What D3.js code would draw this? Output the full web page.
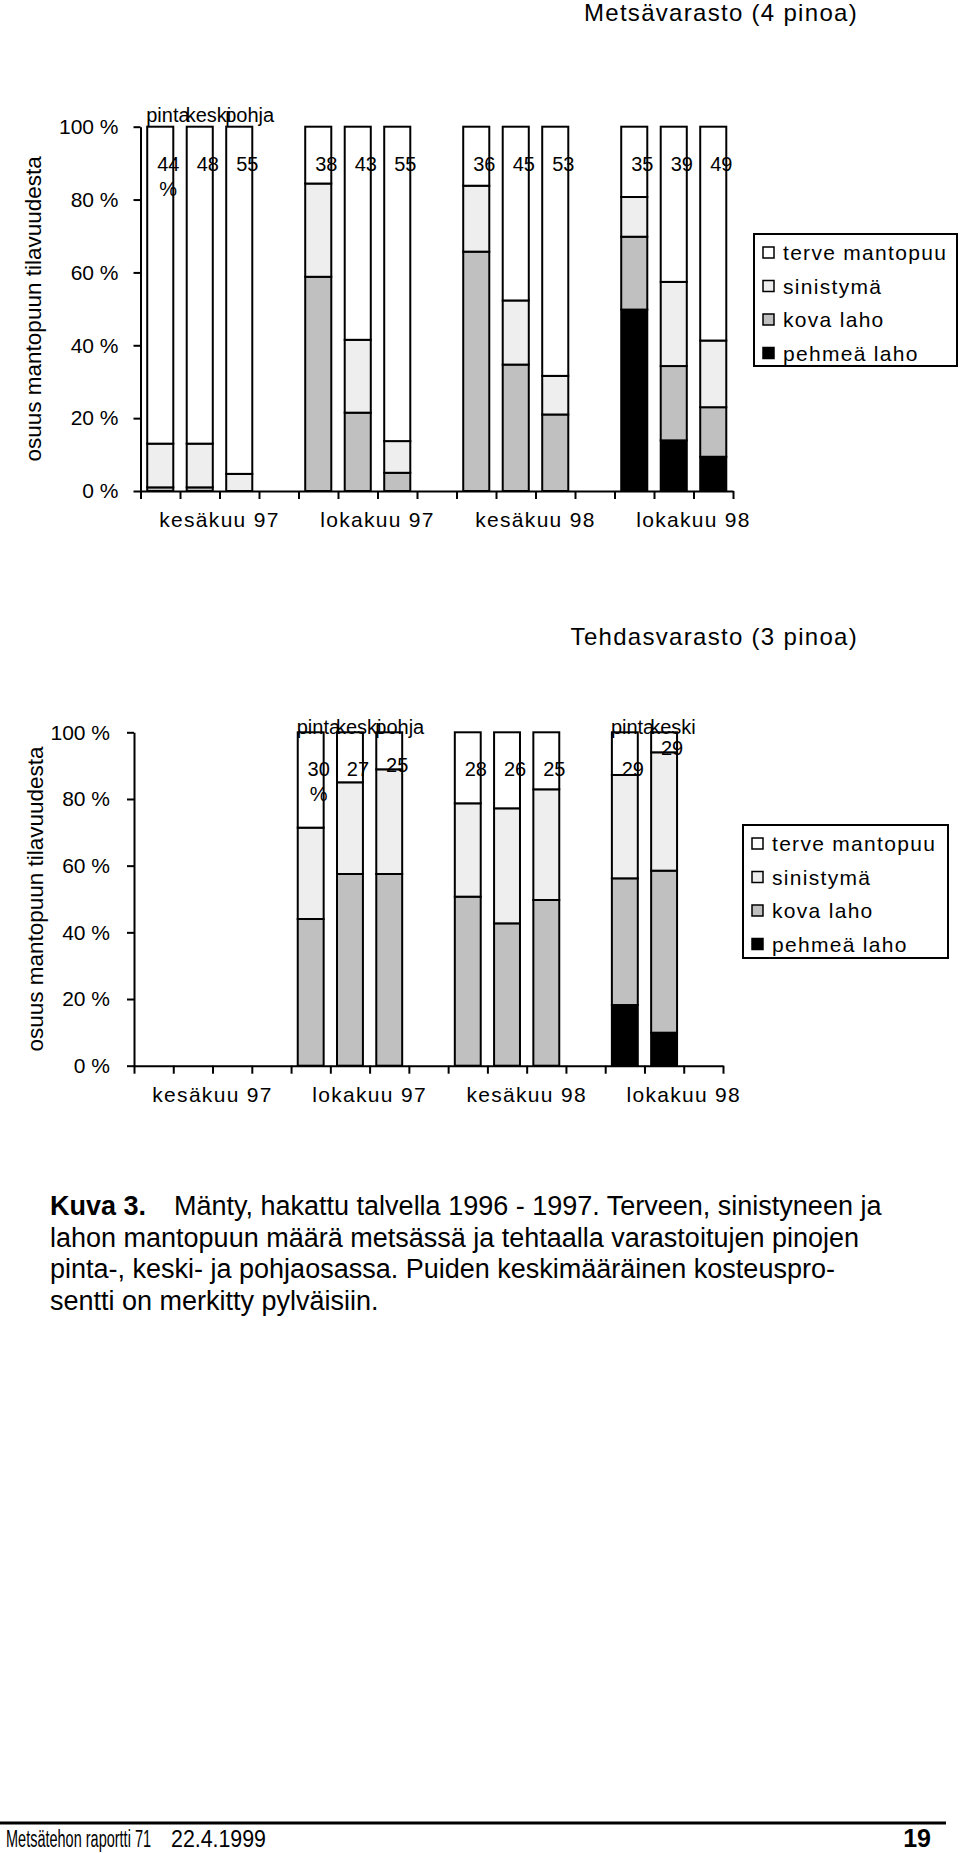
<!DOCTYPE html>
<html>
<head>
<meta charset="utf-8">
<script src="https://cdn.jsdelivr.net/npm/d3@7"></script>
<style>
  body { margin: 0; background: #fff; }
  svg { display: block; font-family: "Liberation Sans", Arial, Helvetica, sans-serif; }
</style>
</head>
<body>
<svg id="page" width="960" height="1853"></svg>
<script>
// Two stacked 100 % column charts (forest storage / mill storage), one figure page.
// Bars are indexed group x layer (4 x 3 = 12); a null means that pile was not measured.

const groups = ['kesäkuu 97', 'lokakuu 97', 'kesäkuu 98', 'lokakuu 98'];
const layers = ['pinta', 'keski', 'pohja'];
const seriesNames = ['pehmeä laho', 'kova laho', 'sinistymä', 'terve mantopuu'];
const seriesFill = ['#000000', '#c0c0c0', '#eeeeee', '#ffffff'];
const yTicks = [0, 20, 40, 60, 80, 100];

// Metsävarasto (4 pinoa)
const forestPehmea = [0, 0, 0, 0, 0, 0, 0, 0, 0, 49.8, 13.9, 9.4];
const forestKova = [1, 1, 0, 58.8, 21.5, 5, 65.7, 34.7, 21, 20, 20.4, 13.6];
const forestSin = [12, 12, 4.7, 25.6, 20, 8.7, 18.1, 17.6, 10.6, 10.9, 23.1, 18.3];
const forestTerve = [87, 87, 95.3, 15.6, 58.5, 86.3, 16.2, 47.7, 68.4, 19.3, 42.6, 58.7];
const forestMoist = [44, 48, 55, 38, 43, 55, 36, 45, 53, 35, 39, 49];

// Tehdasvarasto (3 pinoa)
const millPehmea = [null, null, null, 0, 0, 0, 0, 0, 0, 18.2, 9.9, null];
const millKova = [null, null, null, 44, 57.5, 57.5, 50.7, 42.7, 49.7, 38, 48.6, null];
const millSin = [null, null, null, 27.4, 27.5, 31.4, 28, 34.5, 33.2, 31, 35.5, null];
const millTerve = [null, null, null, 28.6, 15, 11.1, 21.3, 22.8, 17.1, 12.8, 6, null];
const millMoist = [null, null, null, 30, 27, 25, 28, 26, 25, 29, 29, null];

const captionBold = 'Kuva 3.';
const captionLines = [
  'Mänty, hakattu talvella 1996 - 1997. Terveen, sinistyneen ja',
  'lahon mantopuun määrä metsässä ja tehtaalla varastoitujen pinojen',
  'pinta-, keski- ja pohjaosassa. Puiden keskimääräinen kosteuspro-',
  'sentti on merkitty pylväisiin.'
];
const footerLeft = 'Metsätehon raportti 71';
const footerDate = '22.4.1999';
const footerPage = '19';

const svg = d3.select('#page');

function drawChart(cfg, data) {
  const g = svg.append('g');
  const nSlots = 15;
  const x = d3.scaleBand().domain(d3.range(nSlots)).range([cfg.x0, cfg.x1])
    .paddingInner(0.34).paddingOuter(0.17);
  const xb = d3.scaleLinear().domain([0, nSlots]).range([cfg.x0, cfg.x1]);
  const y = d3.scaleLinear().domain([0, 100]).range([cfg.yBot, cfg.yTop]);

  const rows = d3.range(12).filter((i) => data.values[3][i] != null).map((i) => {
    const r = { i, group: Math.floor(i / 3), layer: i % 3, slot: Math.floor(i / 3) * 4 + (i % 3), moist: data.moist[i] };
    seriesNames.forEach((s, k) => { r[s] = data.values[k][i]; });
    return r;
  });
  const stacked = d3.stack().keys(seriesNames)(rows);

  // title
  g.append('text').attr('x', cfg.titleRight).attr('y', cfg.titleY).attr('text-anchor', 'end')
    .style('font-size', '24px').style('letter-spacing', '1.3px').text(cfg.title);

  // bars
  stacked.forEach((layer, k) => {
    g.append('g').selectAll('rect').data(layer.filter((d) => d[1] - d[0] > 0)).join('rect')
      .attr('x', (d) => x(d.data.slot)).attr('width', x.bandwidth())
      .attr('y', (d) => y(d[1])).attr('height', (d) => y(d[0]) - y(d[1]))
      .attr('fill', seriesFill[k]).attr('stroke', '#000').attr('stroke-width', 2);
  });

  // axes
  const ya = g.append('g').attr('transform', `translate(${cfg.x0},0)`)
    .call(d3.axisLeft(y).tickValues(yTicks).tickSize(7).tickSizeOuter(0).tickPadding(cfg.tickPad)
      .tickFormat((d) => `${d} %`));
  const xa = g.append('g').attr('transform', `translate(0,${cfg.yBot})`)
    .call(d3.axisBottom(xb).tickValues(d3.range(nSlots + 1)).tickSize(8).tickSizeOuter(0).tickFormat(() => ''));
  [ya, xa].forEach((a) => {
    a.selectAll('path,line').attr('stroke', '#000').attr('stroke-width', 2);
    a.selectAll('text').attr('fill', '#000').style('font-size', '21px').style('font-family', 'inherit');
  });

  // group labels under the axis
  g.append('g').selectAll('text').data(groups).join('text')
    .attr('x', (d, gi) => xb(gi * 4 + 2)).attr('y', cfg.yBot + 36).attr('text-anchor', 'middle')
    .style('font-size', '21px').style('letter-spacing', '1.3px').text((d) => d);

  // y title
  g.append('text')
    .attr('transform', `translate(${cfg.yTitleX},${(cfg.yTop + cfg.yBot) / 2}) rotate(-90)`)
    .attr('text-anchor', 'middle').attr('dy', '0.35em').style('font-size', '22.5px')
    .text('osuus mantopuun tilavuudesta');

  // pile layer names above selected groups
  g.append('g').selectAll('text').data(rows.filter((r) => cfg.layerGroups.includes(r.group))).join('text')
    .attr('x', (d) => x(d.slot) - 1).attr('y', cfg.yTop + cfg.layerDy)
    .style('font-size', '20px').text((d) => layers[d.layer]);

  // moisture labels near the top of each bar (pushed up when the white part is short)
  const terve = stacked[3];
  g.append('g').selectAll('text').data(terve).join('text')
    .attr('x', (d) => x(d.data.slot) + x.bandwidth() / 2 + 8)
    .attr('y', (d) => y(100) + Math.min(37, (y(d[0]) - y(d[1])) - 4))
    .attr('dy', '0.35em').attr('text-anchor', 'middle').style('font-size', '20px')
    .text((d) => d.data.moist);
  g.append('text')
    .attr('x', x(rows[0].slot) + x.bandwidth() / 2 + 8).attr('y', y(100) + 37 + 25)
    .attr('dy', '0.35em').attr('text-anchor', 'middle').style('font-size', '20px').text('%');

  // legend
  const lg = g.append('g');
  lg.append('rect').attr('x', cfg.legX).attr('y', cfg.legY).attr('width', cfg.legW).attr('height', cfg.legH)
    .attr('fill', '#fff').attr('stroke', '#000').attr('stroke-width', 2);
  const order = [3, 2, 1, 0];
  const item = lg.selectAll('g.item').data(order).join('g').attr('class', 'item')
    .attr('transform', (k, j) => `translate(${cfg.legX + 9},${cfg.legY + 26 + j * 33.5})`);
  item.append('rect').attr('x', 0).attr('y', -13).attr('width', 11).attr('height', 11)
    .attr('fill', (k) => seriesFill[k]).attr('stroke', '#000').attr('stroke-width', 1.5);
  item.append('text').attr('x', 20).attr('y', 0).style('font-size', '21px').style('letter-spacing', '1.3px')
    .text((k) => seriesNames[k]);
}

drawChart({
  title: 'Metsävarasto (4 pinoa)', titleRight: 858, titleY: 21,
  x0: 140.5, x1: 733, yTop: 126.7, yBot: 491, tickPad: 15, yTitleX: 33,
  layerGroups: [0], layerDy: -5,
  legX: 754, legY: 234, legW: 203, legH: 132
}, { values: [forestPehmea, forestKova, forestSin, forestTerve], moist: forestMoist });

drawChart({
  title: 'Tehdasvarasto (3 pinoa)', titleRight: 858, titleY: 645,
  x0: 134, x1: 723, yTop: 732.3, yBot: 1065.7, tickPad: 17, yTitleX: 35,
  layerGroups: [1, 3], layerDy: 2,
  legX: 743, legY: 825, legW: 205, legH: 133
}, { values: [millPehmea, millKova, millSin, millTerve], moist: millMoist });

// caption
const cap = svg.append('g').style('font-size', '27px');
cap.append('text').attr('x', 50).attr('y', 1215).style('font-weight', 'bold').text(captionBold);
cap.selectAll('text.line').data(captionLines).join('text').attr('class', 'line')
  .attr('x', (d, i) => (i === 0 ? 174 : 50)).attr('y', (d, i) => 1215 + i * 31.5).text((d) => d);

// footer
svg.append('line').attr('x1', 0).attr('x2', 946).attr('y1', 1823).attr('y2', 1823)
  .attr('stroke', '#000').attr('stroke-width', 3);
svg.append('text').attr('x', 6).attr('y', 1847).style('font-size', '23px')
  .attr('textLength', 145).attr('lengthAdjust', 'spacingAndGlyphs').text(footerLeft);
svg.append('text').attr('x', 171).attr('y', 1847).style('font-size', '23px')
  .attr('textLength', 95).attr('lengthAdjust', 'spacingAndGlyphs').text(footerDate);
svg.append('text').attr('x', 931).attr('y', 1847).attr('text-anchor', 'end')
  .style('font-size', '25px').style('font-weight', 'bold').text(footerPage);
</script>
</body>
</html>
